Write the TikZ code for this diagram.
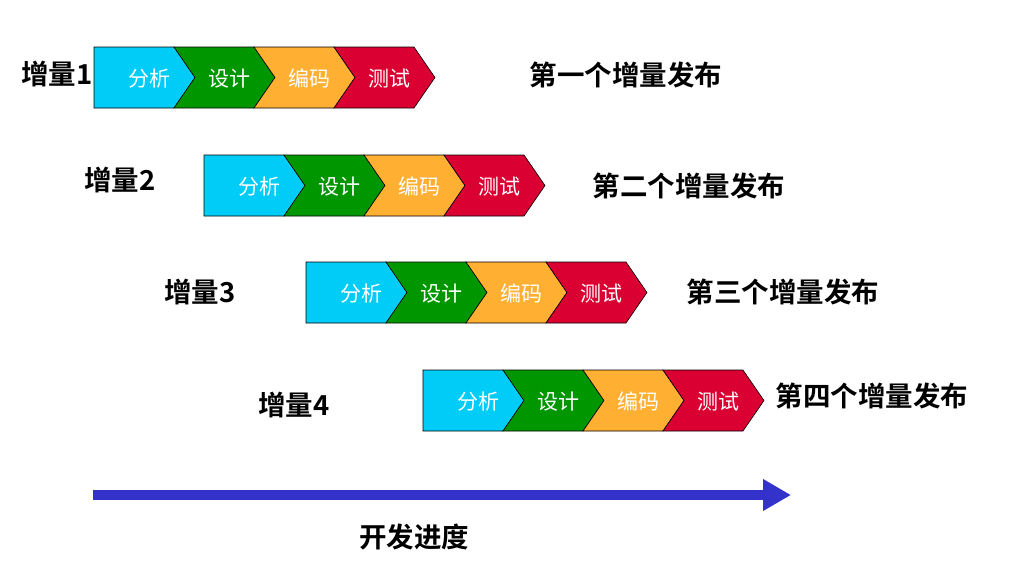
\documentclass[tikz,border=0pt]{standalone}
\usepackage{fontspec}
\usetikzlibrary{arrows.meta}
\newfontfamily\cjk[BoldFont={Noto Sans CJK SC Bold}]{Noto Sans CJK SC}
\definecolor{cA}{RGB}{0,204,248}
\definecolor{cB}{RGB}{0,150,0}
\definecolor{cC}{RGB}{255,175,50}
\definecolor{cD}{RGB}{218,0,50}
\definecolor{arrowblue}{RGB}{51,51,204}
\begin{document}
\begin{tikzpicture}[x=1pt,y=-1pt,
  seg/.style={draw=black, line width=0.6pt},
  segtext/.style={text=white, font=\cjk\fontsize{21}{21}\selectfont, inner sep=0pt},
  lab/.style={font=\cjk\bfseries\fontsize{27.5}{27.5}\selectfont, inner sep=0pt}]
\useasboundingbox (0,0) rectangle (1021,566);
\foreach \r/\X/\T/\lx/\ly/\rx/\ry/\n/\rt in {
  1/94/47/57/74/626/75/1/第一个增量发布,
  2/204/155/120/180/689/186/2/第二个增量发布,
  3/306/262/200/292/783/292/3/第三个增量发布,
  4/423/370/294/405/872/396/4/第四个增量发布}{
  \foreach \i/\c/\s in {0/cA/分析,1/cB/设计,2/cC/编码,3/cD/测试}{
    \pgfmathsetmacro{\L}{\X+80*\i}
    \pgfmathsetmacro{\B}{\T+61}
    \pgfmathsetmacro{\M}{\T+30.5}
    \ifnum\i=0
      \path[seg, fill=\c] (\L,\T) -- ({\L+80},\T) -- ({\L+101},\M) -- ({\L+80},\B) -- (\L,\B) -- cycle;
    \else
      \path[seg, fill=\c] (\L,\T) -- ({\L+80},\T) -- ({\L+101},\M) -- ({\L+80},\B) -- (\L,\B) -- ({\L+21},\M) -- cycle;
    \fi
    \node[segtext] (s\r-\i) at ({\L+55},{\M+1}) {\s};
  }
  \node[lab] (l\r) at (\lx,\ly) {增量\n};
  \node[lab] (r\r) at (\rx,\ry) {\rt};
}
\coordinate (a0) at (93,495);
\coordinate (a1) at (791,495);
\draw[arrowblue, line width=9.5pt, -{Triangle[length=28pt,width=30pt]}] (a0) -- (a1);
\node[lab] (prog) at (414,537) {开发进度};
\end{tikzpicture}
\end{document}
